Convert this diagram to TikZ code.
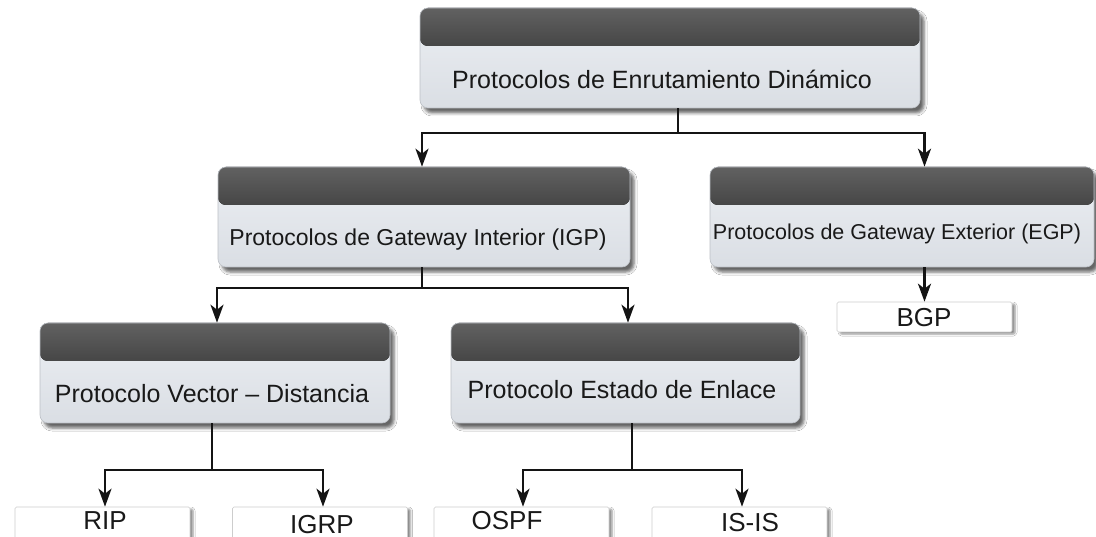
\documentclass[tikz,border=0pt]{standalone}
\usepackage{fontspec}
\setmainfont{Liberation Sans}
\usetikzlibrary{arrows.meta,shadows.blur}

\definecolor{hdrTop}{RGB}{98,98,98}
\definecolor{hdrMid}{RGB}{52,52,52}
\definecolor{hdrBot}{RGB}{26,26,26}
\definecolor{bodyTop}{RGB}{236,239,243}
\definecolor{bodyBot}{RGB}{218,222,228}
\definecolor{boxEdge}{RGB}{188,192,198}
\definecolor{leafEdge}{RGB}{205,205,205}

\begin{document}
\begin{tikzpicture}[x=1pt,y=-1pt,
  catbox/.style={rectangle, inner sep=0pt, rounded corners=8pt,
    top color=bodyTop, bottom color=bodyBot, draw=boxEdge, line width=0.6pt,
    minimum height=100pt,
    blur shadow={shadow xshift=4pt, shadow yshift=-5pt, shadow blur radius=3pt, shadow opacity=60},
    path picture={\fill[top color=hdrTop, middle color=hdrMid, bottom color=hdrBot]
      ([yshift=1pt]path picture bounding box.north west) rectangle
      ([yshift=-38pt]path picture bounding box.north east);}},
  leaf/.style={rectangle, inner sep=0pt, fill=white, draw=leafEdge, line width=0.6pt,
    rounded corners=1.5pt, minimum width=175pt,
    blur shadow={shadow xshift=3pt, shadow yshift=-2pt, shadow blur radius=2pt, shadow opacity=45}},
  lbl/.style={inner sep=0pt, anchor=base, text=black!90},
  wire/.style={line width=2.6pt, draw=black!92},
  arr/.style={wire, -{Stealth[length=18pt,width=13pt,inset=5pt]}}
]
\clip (0,0) rectangle (1096,537);
\fill[white] (0,0) rectangle (1096,537);

% category boxes (dark header band, light body)
\node[catbox, minimum width=500pt] (R)   at (670,58)   {};
\node[catbox, minimum width=412pt] (IGP) at (424,217)  {};
\node[catbox, minimum width=384pt] (EGP) at (902,217)  {};
\node[catbox, minimum width=350pt] (VD)  at (215,373)  {};
\node[catbox, minimum width=349pt] (EE)  at (625.5,373) {};

% protocol boxes
\node[leaf, minimum height=30pt] (BGP)  at (924.5,317) {};
\node[leaf, minimum height=60pt] (RIP)  at (102.5,537) {};
\node[leaf, minimum height=60pt] (IGRP) at (320,537)   {};
\node[leaf, minimum height=60pt] (OSPF) at (521.5,537) {};
\node[leaf, minimum height=60pt] (ISIS) at (739.5,537) {};

% labels
\node[lbl, font=\fontsize{25}{30}\selectfont] (Rt)   at (662,89)  {Protocolos de Enrutamiento Dinámico};
\node[lbl, font=\fontsize{23}{28}\selectfont] (IGPt) at (418,246) {Protocolos de Gateway Interior (IGP)};
\node[lbl, font=\fontsize{21.5}{26}\selectfont] (EGPt) at (897,240) {Protocolos de Gateway Exterior (EGP)};
\node[lbl, font=\fontsize{25}{30}\selectfont] (VDt)  at (212,403) {Protocolo Vector – Distancia};
\node[lbl, font=\fontsize{25}{30}\selectfont] (EEt)  at (622,399) {Protocolo Estado de Enlace};
\node[lbl, font=\fontsize{26}{30}\selectfont] (BGPt) at (924,327) {BGP};
\node[lbl, font=\fontsize{26}{30}\selectfont] (RIPt) at (105,529) {RIP};
\node[lbl, font=\fontsize{26}{30}\selectfont] (IGRPt) at (322,533) {IGRP};
\node[lbl, font=\fontsize{26}{30}\selectfont] (OSPFt) at (507,529) {OSPF};
\node[lbl, font=\fontsize{26}{30}\selectfont] (ISISt) at (750,531) {IS-IS};

% connectors
\coordinate (jR) at (678,133);
\draw[wire] (R.south -| jR) -- (jR);
\draw[arr] (jR) -| ([xshift=-2pt]IGP.north);
\draw[arr] (jR) -| (BGP.north |- EGP.north);

\coordinate (jI) at (422,288);
\draw[wire] (IGP.south -| jI) -- (jI);
\draw[arr] (jI) -| ([xshift=2pt]VD.north);
\draw[arr] (jI) -| ([xshift=2.5pt]EE.north);

\draw[arr] (BGP.north |- EGP.south) -- (BGP.north);

\coordinate (jV) at (212,470);
\draw[wire] (VD.south -| jV) -- (jV);
\draw[arr] (jV) -| ([xshift=2.5pt]RIP.north);
\draw[arr] (jV) -| ([xshift=3pt]IGRP.north);

\coordinate (jE) at (632,470);
\draw[wire] (EE.south -| jE) -- (jE);
\draw[arr] (jE) -| ([xshift=1.5pt]OSPF.north);
\draw[arr] (jE) -| ([xshift=2.5pt]ISIS.north);
\end{tikzpicture}
\end{document}
